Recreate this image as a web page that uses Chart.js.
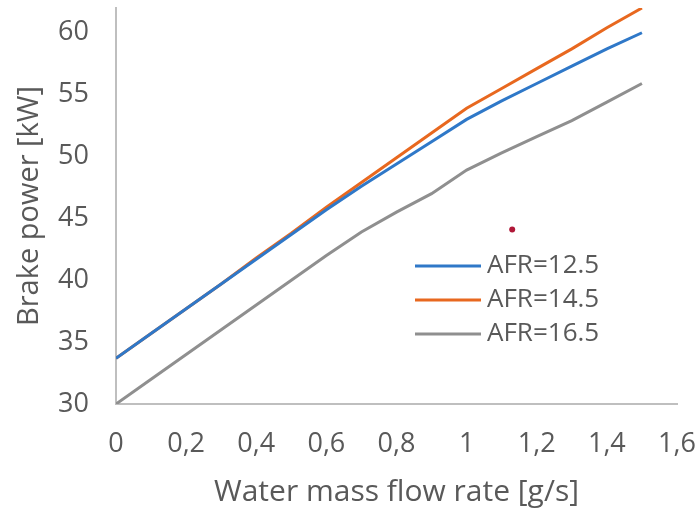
<!DOCTYPE html>
<html>
<head>
<meta charset="utf-8">
<script src="https://cdn.jsdelivr.net/npm/chart.js@4/dist/chart.umd.min.js"></script>
<style>
  html, body { margin: 0; padding: 0; background: #fff; }
  #wrap { width: 700px; height: 512px; }
</style>
</head>
<body>
<div id="wrap"><canvas id="chart" width="700" height="512"></canvas></div>
<script>
// --- data ---
const flowRates = [0, 0.1, 0.2, 0.3, 0.4, 0.5, 0.6, 0.7, 0.8, 0.9, 1.0, 1.1, 1.2, 1.3, 1.4, 1.5];
const afr125 = [33.7, 35.7, 37.7, 39.7, 41.7, 43.7, 45.7, 47.6, 49.4, 51.2, 53.0, 54.5, 55.9, 57.3, 58.7, 60.0];
const afr145 = [33.7, 35.7, 37.7, 39.7, 41.8, 43.8, 45.9, 47.9, 49.9, 51.9, 53.9, 55.5, 57.1, 58.7, 60.4, 62.0];
const afr165 = [30.0, 32.0, 34.0, 36.0, 38.0, 40.0, 42.0, 43.9, 45.5, 47.0, 48.9, 50.3, 51.6, 52.9, 54.4, 55.9];
const strayPoint = [{ x: 1.13, y: 44.1 }];
const seriesNames = ['AFR=12.5', 'AFR=14.5', 'AFR=16.5'];
const seriesColors = ['#2f78c8', '#e8681f', '#8f8f8f'];
const yTickValues = [30, 35, 40, 45, 50, 55, 60];

const textColor = '#595959';
const fontFamily = '"Open Sans", "Liberation Sans", sans-serif';

function toPoints(ys) {
    return flowRates.map((x, i) => ({ x: x, y: ys[i] }));
}

// legend drawn inside the plot, like the original
const insideLegend = {
    id: 'insideLegend',
    afterDraw(chart) {
        const ctx = chart.ctx;
        ctx.save();
        ctx.font = '26px ' + fontFamily;
        ctx.textBaseline = 'middle';
        seriesNames.forEach((name, i) => {
            const y = 266 + i * 34;
            ctx.strokeStyle = seriesColors[i];
            ctx.lineWidth = 3;
            ctx.beginPath();
            ctx.moveTo(415, y);
            ctx.lineTo(481, y);
            ctx.stroke();
            ctx.fillStyle = textColor;
            ctx.fillText(name, 487, y);
        });
        ctx.restore();
    }
};

const datasets = [afr125, afr145, afr165].map((ys, i) => ({
    label: seriesNames[i],
    data: toPoints(ys),
    borderColor: seriesColors[i],
    borderWidth: 3,
    pointRadius: 0,
    tension: 0,
    showLine: true
}));
datasets.push({
    label: 'point',
    data: strayPoint,
    pointRadius: 3,
    pointBackgroundColor: '#b01838',
    pointBorderWidth: 0,
    showLine: false
});

new Chart(document.getElementById('chart'), {
    type: 'scatter',
    data: { datasets: datasets },
    options: {
        responsive: false,
        animation: false,
        layout: { padding: { top: 8, right: 23, left: 0, bottom: 0 } },
        plugins: { legend: { display: false }, tooltip: { enabled: false } },
        scales: {
            x: {
                type: 'linear',
                min: 0, max: 1.6,
                grid: { display: false, drawTicks: false },
                border: { color: '#bfbfbf', width: 2 },
                ticks: {
                    stepSize: 0.2,
                    padding: 24,
                    color: textColor,
                    font: { size: 27, family: fontFamily },
                    callback: v => String(Number(v.toFixed(1))).replace('.', ',')
                },
                title: {
                    display: true,
                    text: 'Water mass flow rate [g/s]',
                    color: textColor,
                    font: { size: 30, family: fontFamily },
                    padding: { top: 0, bottom: 2 }
                },
                afterFit: s => { s.height = 108; s.paddingLeft = 0; s.paddingRight = 0; }
            },
            y: {
                type: 'linear',
                min: 30, max: 62,
                grid: { display: false, drawTicks: false },
                border: { color: '#bfbfbf', width: 2 },
                ticks: {
                    padding: 27,
                    color: textColor,
                    font: { size: 27, family: fontFamily }
                },
                afterBuildTicks: s => { s.ticks = yTickValues.map(v => ({ value: v })); },
                title: {
                    display: true,
                    text: 'Brake power [kW]',
                    color: textColor,
                    font: { size: 29, family: fontFamily },
                    padding: { top: 12, bottom: 0 }
                },
                afterFit: s => { s.width = 116; s.paddingTop = 0; s.paddingBottom = 0; }
            }
        }
    },
    plugins: [insideLegend]
});
</script>
</body>
</html>
